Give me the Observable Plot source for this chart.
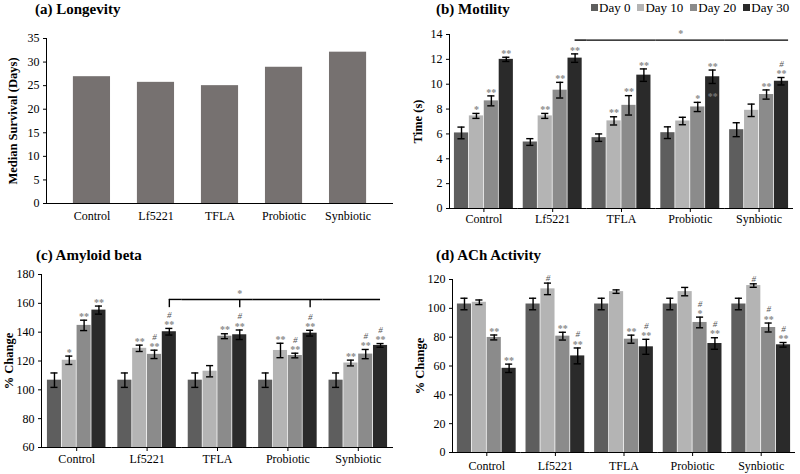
<!DOCTYPE html>
<html>
<head>
<meta charset="utf-8">
<script src="https://cdn.jsdelivr.net/npm/d3@7"></script>
<script src="https://cdn.jsdelivr.net/npm/@observablehq/plot@0.6"></script>
<style>
  body { margin: 0; background: #fff; }
  #wrap { position: relative; width: 800px; height: 474px; overflow: hidden; background: #fff; font-family: "Liberation Serif", serif; }
  .panel { position: absolute; }
  #wrap svg, #wrap svg text { font-family: "Liberation Serif", serif !important; }
  .title { position: absolute; font: bold 15px "Liberation Serif", serif; color: #000; white-space: nowrap; line-height: 16px; }
  .legend { position: absolute; display: flex; gap: 7px; font: 13px "Liberation Serif", serif; color: #000; line-height: 16px; white-space: nowrap; }
  .legend span.sw { display: inline-block; width: 7px; height: 7px; margin-right: 1px; vertical-align: 1px; }
  svg [aria-label="y-axis label"] { font-weight: bold; font-size: 12.5px; }
</style>
</head>
<body>
<div id="wrap"></div>
<script>
// ---------- data ----------
const categories = ["Control", "Lf5221", "TFLA", "Probiotic", "Synbiotic"];
const days = ["Day 0", "Day 10", "Day 20", "Day 30"];
const dayColors = ["#5e5e5e", "#b4b4b4", "#8b8b8b", "#2a2a2a"];
const longevityColor = "#767170";
const starColor = "#8a8a8a";
const hashColor = "#555555";

// (a) Longevity
const longevity = [26.9, 25.7, 25.0, 28.9, 32.1];
const longevityTicks = [0, 5, 10, 15, 20, 25, 30, 35];

// (b) Motility
const motilityMean = [
  [6.08, 7.45, 8.66, 12.0],
  [5.35, 7.45, 9.52, 12.1],
  [5.7, 7.05, 8.3, 10.73],
  [6.1, 7.04, 8.17, 10.6],
  [6.34, 7.9, 9.17, 10.24]
];
const motilityErr = [
  [0.47, 0.2, 0.4, 0.17],
  [0.27, 0.2, 0.63, 0.34],
  [0.3, 0.33, 0.78, 0.5],
  [0.47, 0.3, 0.37, 0.54],
  [0.56, 0.5, 0.37, 0.3]
];
const motilityStars = [
  ["", "*", "**", "**"],
  ["", "**", "**", "**"],
  ["", "**", "**", "**"],
  ["", "", "*", "**"],
  ["", "", "**", "**"]
];
const motilityHash = [
  ["", "", "", ""],
  ["", "", "", ""],
  ["", "", "", ""],
  ["", "", "", ""],
  ["", "", "", "#"]
];
const motilityTicks = [0, 2, 4, 6, 8, 10, 12, 14];
const motilityBracket = 13.55;
const motilityStray = [{cat: "Probiotic", day: "Day 30", v: 8.98, text: "**"}];

// (c) Amyloid beta
const amyloidMean = [
  [106.7, 120.5, 144.7, 155.3],
  [106.7, 128.8, 124.6, 140.3],
  [106.7, 112.9, 137.2, 138.2],
  [106.7, 127.3, 123.8, 139.3],
  [106.7, 118.6, 124.8, 130.8]
];
const amyloidErr = [
  [5, 2.9, 3.6, 2.8],
  [5, 2.2, 2.9, 2.3],
  [5, 3.9, 1.7, 3.3],
  [5, 5, 1.6, 2],
  [5, 2, 3.2, 1.3]
];
const amyloidStars = [
  ["", "*", "**", "**"],
  ["", "**", "**", "**"],
  ["", "", "**", "**"],
  ["", "**", "**", "**"],
  ["", "**", "**", "**"]
];
const amyloidHash = [
  ["", "", "", ""],
  ["", "", "#", "#"],
  ["", "", "", "#"],
  ["", "", "#", "#"],
  ["", "", "#", "#"]
];
const amyloidTicks = [60, 80, 100, 120, 140, 160, 180];
const amyloidBracket = 162.7;
const amyloidDrop = 157;

// (d) ACh Activity
const achMean = [
  [103, 104.2, 79.8, 58.4],
  [103, 113.5, 80.7, 67],
  [103, 111.6, 78.6, 73.3],
  [103, 111.6, 90.2, 75.6],
  [103, 115.8, 86.7, 74.7]
];
const achErr = [
  [4, 1.6, 1.7, 2.9],
  [4, 4, 2.7, 5.5],
  [4, 1.2, 2.8, 5.2],
  [4, 2.9, 3.7, 4],
  [4, 1.2, 3.1, 1.6]
];
const achStars = [
  ["", "", "**", "**"],
  ["", "", "**", "**"],
  ["", "", "**", "**"],
  ["", "", "*", "**"],
  ["", "", "**", "**"]
];
const achHash = [
  ["", "", "", ""],
  ["", "#", "", "#"],
  ["", "", "", "#"],
  ["", "", "#", "#"],
  ["", "#", "#", "#"]
];
const achTicks = [0, 20, 40, 60, 80, 100, 120];

// ---------- helpers ----------
const FONT = '"Liberation Serif", serif';
const baseStyle = {fontFamily: FONT, fontSize: "12px", color: "#000", background: "transparent", overflow: "visible"};
const PI = 0.05;

function rows(mean, err, stars, hash) {
  return categories.flatMap((cat, i) => days.map((day, j) => ({
    cat, day, v: mean[i][j], e: err[i][j], star: stars[i][j], hash: hash[i][j]
  })));
}

function geom(w, ml, mr, po) {
  const facetW = (w - ml - mr) / categories.length;
  const xb = d3.scaleBand(days, [0, facetW]).paddingInner(PI).paddingOuter(po);
  return {facetW, xb, bw: xb.bandwidth()};
}

function grouped(o) {
  const d = o.data;
  const hi = r => r.v + r.e, lo = r => r.v - r.e;
  return Plot.plot({
    width: o.w, height: o.h,
    marginLeft: o.ml, marginRight: o.mr, marginTop: o.mt, marginBottom: o.mb,
    style: baseStyle,
    fx: {domain: categories, padding: 0, round: false, label: null, tickSize: 4, tickPadding: o.fxPad},
    x: {domain: days, paddingInner: PI, paddingOuter: o.po, round: false, axis: null},
    y: {domain: o.yDomain, ticks: o.yTicks, tickSize: 3, tickPadding: 4, label: o.yLabel,
        labelAnchor: "center", labelOffset: o.labelOffset, labelArrow: "none", line: true},
    color: {domain: days, range: dayColors},
    marks: [
      Plot.barY(d, {fx: "cat", x: "day", y1: o.yDomain[0], y2: "v", fill: "day"}),
      Plot.ruleY([o.yDomain[0]], {stroke: "#000"}),
      Plot.ruleX(d, {fx: "cat", x: "day", y1: lo, y2: hi, stroke: "#000", strokeWidth: 1.4}),
      Plot.tickY(d, {fx: "cat", x: "day", y: lo, insetLeft: 3.5, insetRight: 3.5, stroke: "#000", strokeWidth: 1.4}),
      Plot.tickY(d, {fx: "cat", x: "day", y: hi, insetLeft: 3.5, insetRight: 3.5, stroke: "#000", strokeWidth: 1.4}),
      Plot.text(d.filter(r => r.star), {fx: "cat", x: "day", y: hi, text: "star", dy: -3.5, lineAnchor: "middle",
        fill: starColor, fontSize: 10, fontWeight: "bold"}),
      Plot.text(d.filter(r => r.hash && r.star), {fx: "cat", x: "day", y: hi, text: "hash", dy: -13.5, lineAnchor: "middle",
        fill: hashColor, fontSize: 9, fontStyle: "italic"}),
      Plot.text(d.filter(r => r.hash && !r.star), {fx: "cat", x: "day", y: hi, text: "hash", dy: -5, lineAnchor: "middle",
        fill: hashColor, fontSize: 9, fontStyle: "italic"}),
      ...(o.extra || [])
    ]
  });
}

const wrap = document.getElementById("wrap");
function place(node, left, top) {
  const div = document.createElement("div");
  div.className = "panel";
  div.style.left = left + "px";
  div.style.top = top + "px";
  div.appendChild(node);
  wrap.appendChild(div);
}
function title(text, left, top) {
  const t = document.createElement("div");
  t.className = "title";
  t.textContent = text;
  t.style.left = left + "px";
  t.style.top = top + "px";
  wrap.appendChild(t);
}

// ---------- (a) ----------
const longevityData = categories.map((cat, i) => ({cat, v: longevity[i]}));
const chartA = Plot.plot({
  width: 400, height: 230, marginLeft: 46, marginRight: 7, marginTop: 38, marginBottom: 27,
  style: baseStyle,
  x: {domain: categories, padding: 0.42, round: false, label: null, tickSize: 0, tickPadding: 8},
  y: {domain: [0, 35], ticks: longevityTicks, tickSize: 3, tickPadding: 4, label: "Median Survival (Days)",
      labelAnchor: "center", labelOffset: 38, labelArrow: "none", line: true},
  marks: [
    Plot.barY(longevityData, {x: "cat", y: "v", fill: longevityColor}),
    Plot.ruleY([0], {stroke: "#000"})
  ]
});
place(chartA, 0, 0);
title("(a) Longevity", 35, 1);

// ---------- (b) ----------
const bW = 400, bML = 49, bMR = 7, bPO = 0.33;
const gB = geom(bW, bML, bMR, bPO);
const motility = rows(motilityMean, motilityErr, motilityStars, motilityHash);
const chartB = grouped({
  data: motility, w: bW, h: 230, ml: bML, mr: bMR, mt: 34, mb: 22, po: bPO, fxPad: 2,
  yDomain: [0, 14], yTicks: motilityTicks, yLabel: "Time (s)", labelOffset: 36,
  extra: [
    Plot.ruleY([{cat: "Lf5221"}], {fx: "cat", y: () => motilityBracket, stroke: "#000", strokeWidth: 1.4,
      insetLeft: gB.xb("Day 30") + gB.bw / 2}),
    Plot.ruleY([{cat: "TFLA"}, {cat: "Probiotic"}], {fx: "cat", y: () => motilityBracket, stroke: "#000", strokeWidth: 1.4}),
    Plot.ruleY([{cat: "Synbiotic"}], {fx: "cat", y: () => motilityBracket, stroke: "#000", strokeWidth: 1.4,
      insetRight: gB.facetW - (gB.xb("Day 30") + gB.bw)}),
    Plot.text([{cat: "Probiotic", day: "Day 10"}], {fx: "cat", x: "day", y: () => motilityBracket, text: () => "*",
      dy: -6, dx: -2, lineAnchor: "middle", fill: starColor, fontSize: 10, fontWeight: "bold"}),
    Plot.text(motilityStray, {fx: "cat", x: "day", y: "v", text: "text", lineAnchor: "middle",
      fill: "#777", fontSize: 10, fontWeight: "bold"})
  ]
});
place(chartB, 400, 0);
title("(b) Motility", 436, 1);

// legend
const legend = document.createElement("div");
legend.className = "legend";
legend.style.left = "591px";
legend.style.top = "0px";
days.forEach((day, i) => {
  const item = document.createElement("div");
  const sw = document.createElement("span");
  sw.className = "sw";
  sw.style.background = dayColors[i];
  item.appendChild(sw);
  item.appendChild(document.createTextNode(day));
  legend.appendChild(item);
});
wrap.appendChild(legend);

// ---------- (c) ----------
const cW = 400, cML = 41, cMR = 7, cPO = 0.4;
const gC = geom(cW, cML, cMR, cPO);
const amyloid = rows(amyloidMean, amyloidErr, amyloidStars, amyloidHash);
const chartC = grouped({
  data: amyloid, w: cW, h: 244, ml: cML, mr: cMR, mt: 44, mb: 27, po: cPO, fxPad: 3,
  yDomain: [60, 180], yTicks: amyloidTicks, yLabel: "% Change", labelOffset: 37,
  extra: [
    Plot.ruleY([{cat: "Lf5221"}], {fx: "cat", y: () => amyloidBracket, stroke: "#000", strokeWidth: 1.4,
      insetLeft: gC.xb("Day 30") + gC.bw / 2}),
    Plot.ruleY([{cat: "TFLA"}, {cat: "Probiotic"}], {fx: "cat", y: () => amyloidBracket, stroke: "#000", strokeWidth: 1.4}),
    Plot.ruleY([{cat: "Synbiotic"}], {fx: "cat", y: () => amyloidBracket, stroke: "#000", strokeWidth: 1.4,
      insetRight: gC.facetW - (gC.xb("Day 30") + gC.bw / 2)}),
    Plot.ruleX([{cat: "Lf5221"}, {cat: "TFLA"}, {cat: "Probiotic"}], {fx: "cat", x: () => "Day 30",
      y1: () => amyloidDrop, y2: () => amyloidBracket, stroke: "#000", strokeWidth: 1.4}),
    Plot.text([{cat: "TFLA", day: "Day 30"}], {fx: "cat", x: "day", y: () => amyloidBracket, text: () => "*",
      dy: -6, lineAnchor: "middle", fill: starColor, fontSize: 10, fontWeight: "bold"})
  ]
});
place(chartC, 0, 230);
title("(c)  Amyloid beta", 36, 247);

// ---------- (d) ----------
const dW = 400, dML = 52, dMR = 5, dPO = 0.33;
const ach = rows(achMean, achErr, achStars, achHash);
const chartD = grouped({
  data: ach, w: dW, h: 244, ml: dML, mr: dMR, mt: 49, mb: 22, po: dPO, fxPad: 5,
  yDomain: [0, 120], yTicks: achTicks, yLabel: "% Change", labelOffset: 37
});
place(chartD, 400, 230);
title("(d) ACh Activity", 436, 247);
</script>
</body>
</html>
